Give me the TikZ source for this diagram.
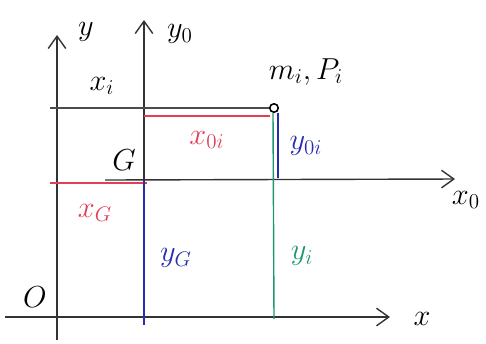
\documentclass[tikz,border=0pt]{standalone}
\usepackage{amsmath,amssymb}
\usetikzlibrary{arrows.meta}
\definecolor{penred}{RGB}{226,62,86}
\definecolor{penblue}{RGB}{40,44,176}
\definecolor{pengreen}{RGB}{30,150,112}
\tikzset{
  axis/.style={
    line width=0.8pt,
    draw=black!80,
    -{Straight Barb[length=7pt,width=10pt]}
  },
  guide/.style={
    line width=0.8pt,
    draw=black!70
  },
  mass/.style={
    shape=circle,
    draw,
    line width=0.9pt,
    inner sep=0.06cm
  },
  every picture/.style={
    font=\LARGE
  }
}
\begin{document}
\begin{tikzpicture}[x=0.02cm,y=-0.02cm]
        \useasboundingbox (0,0) rectangle (486,343);
        % fixed frame
        \coordinate (yb) at (57,340);
        \coordinate (yt) at (57,35);
        \coordinate (xl) at (5,317);
        \coordinate (xr) at (390,317);
        \draw[axis] (yb) -- (yt);
        \draw[axis] (xl) -- (xr);
        % frame at G
        \coordinate (y0b) at (144,325);
        \coordinate (G) at (144,181);
        \coordinate (y0t) at (144,20);
        \coordinate (x0l) at (105,180);
        \coordinate (x0r) at (455,179);
        \draw[axis] (G) -- (y0t);
        \draw[axis] (x0l) -- (x0r);
        % point mass
        \node[mass] (mi) at (274,108) {};
        \coordinate (xil) at (50,108);
        \draw[guide] (xil) -- (mi);
        % coordinates
        \coordinate (x0ia) at (144,116);
        \coordinate (x0ib) at (270,116);
        \coordinate (xGa) at (50,183);
        \coordinate (xGb) at (147,183);
        \coordinate (y0ib) at (278,178);
        \coordinate (yib) at (274,319);
        \draw[penred,line width=0.9pt] (x0ia) -- (x0ib);
        \draw[penred,line width=0.9pt] (xGa) -- (xGb);
        \draw[penblue,line width=0.9pt] (G) -- (y0b);
        \draw[penblue,line width=0.9pt] ([xshift=0.08cm]mi.south) -- (y0ib);
        \draw[pengreen,line width=0.8pt] ([xshift=-0.02cm]mi.south) -- (yib);
        % labels
        \node (ylab) at (86,32) {$y$};
        \node (y0lab) at (180,34) {$y_0$};
        \node (xilab) at (102,86) {$x_i$};
        \node (milab) at (306,72) {$m_i,P_i$};
        \node[penred] (x0ilab) at (207,140) {$x_{0i}$};
        \node[penblue] (y0ilab) at (306,146) {$y_{0i}$};
        \node (Glab) at (124,160) {$G$};
        \node (x0lab) at (466,200) {$x_0$};
        \node[penred] (xGlab) at (95,213) {$x_G$};
        \node[penblue] (yGlab) at (176,258) {$y_G$};
        \node[pengreen] (yilab) at (302,256) {$y_i$};
        \node (Olab) at (35,297) {$O$};
        \node (xlab) at (422,319) {$x$};
    \end{tikzpicture}
\end{document}
